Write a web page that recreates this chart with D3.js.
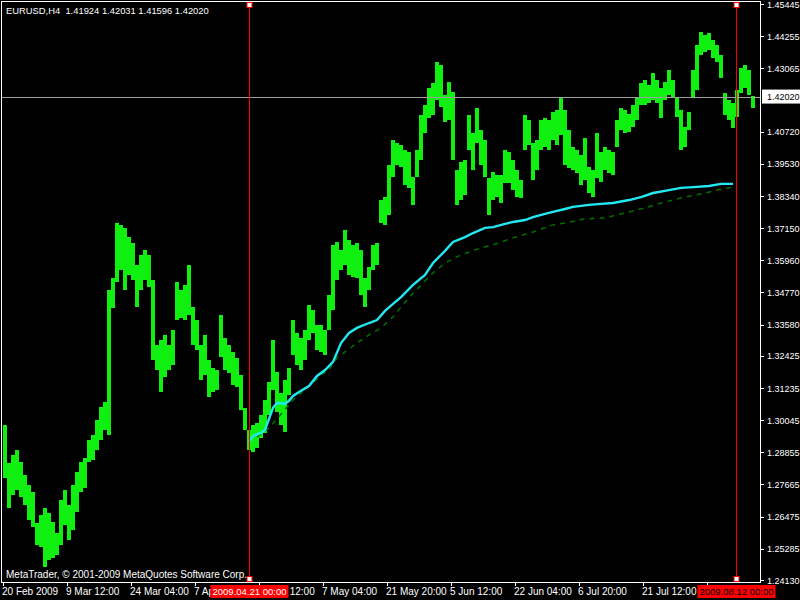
<!DOCTYPE html>
<html><head><meta charset="utf-8">
<script src="https://cdn.jsdelivr.net/npm/d3@7"></script>
<style>
html,body{margin:0;padding:0;background:#000;}
svg{display:block;}
text{font-family:"Liberation Sans",Arial,sans-serif;font-size:9px;}
</style>
</head><body><svg id="c" width="800" height="600"></svg>
<script>
const titleText = "EURUSD,H4  1.41924 1.42031 1.41596 1.42020";
const copyrightText = "MetaTrader, \u00a9 2001-2009 MetaQuotes Software Corp.";

const highs = [
1.2987,1.2846,1.2876,1.2894,1.2850,1.2802,1.2765,1.2739,1.2624,1.2654,
1.2680,1.2661,1.2628,1.2587,1.2709,1.2746,1.2691,1.2765,1.2813,1.2850,
1.2865,1.2931,1.2950,1.3005,1.3053,1.3072,1.3486,1.3531,1.3734,1.3727,
1.3716,1.3682,1.3660,1.3579,1.3616,1.3634,1.3616,1.3523,1.3283,1.3301,
1.3320,1.3283,1.3338,1.3516,1.3486,1.3505,1.3579,1.3423,1.3375,1.3283,
1.3320,1.3227,1.3198,1.3190,1.3394,1.3309,1.3283,1.3257,1.3235,1.3172,
1.3050,1.2968,1.2987,1.2994,1.3024,1.3079,1.3146,1.3301,1.3183,1.3105,
1.3153,1.3198,1.3375,1.3327,1.3309,1.3338,1.3431,1.3412,1.3357,1.3357,
1.3338,1.3468,1.3653,1.3664,1.3634,1.3708,1.3671,1.3653,1.3660,1.3634,
1.3531,1.3571,1.3653,1.3660,1.3819,1.3830,1.3949,1.4041,1.4030,1.4023,
1.4004,1.3997,1.3904,1.4004,1.4134,1.4171,1.4234,1.4252,1.4330,1.4319,
1.4208,1.4256,1.4219,1.3930,1.3960,1.3967,1.4134,1.4067,1.4160,1.4078,
1.4041,1.3901,1.3923,1.3912,1.3912,1.4004,1.3997,1.3967,1.3930,1.3893,
1.4134,1.4115,1.4030,1.4041,1.4115,1.4123,1.4115,1.4145,1.4152,1.4200,
1.4152,1.4078,1.4015,1.4004,1.3986,1.4049,1.3941,1.3930,1.4067,1.3997,
1.4015,1.4004,1.3997,1.4115,1.4160,1.4152,1.4138,1.4171,1.4197,1.4252,
1.4263,1.4245,1.4289,1.4263,1.4234,1.4256,1.4300,1.4263,1.4200,1.4152,
1.4089,1.4145,1.4300,1.4393,1.4441,1.4430,1.4437,1.4411,1.4393,1.4356,
1.4215,1.4189,1.4178,1.4226,1.4308,1.4319,1.4300,1.4203];

const lows = [
1.2791,1.2680,1.2728,1.2746,1.2720,1.2691,1.2635,1.2609,1.2543,1.2535,
1.2461,1.2487,1.2495,1.2506,1.2543,1.2617,1.2561,1.2598,1.2665,1.2739,
1.2754,1.2850,1.2857,1.2894,1.2931,1.2968,1.2950,1.3420,1.3516,1.3560,
1.3486,1.3542,1.3523,1.3423,1.3486,1.3523,1.3497,1.3227,1.3190,1.3109,
1.3164,1.3190,1.3209,1.3375,1.3383,1.3375,1.3394,1.3283,1.3264,1.3153,
1.3172,1.3090,1.3109,1.3116,1.3238,1.3190,1.3179,1.3135,1.3127,1.3042,
1.2968,1.2894,1.2887,1.2902,1.2939,1.2957,1.3024,1.3116,1.3035,1.2987,
1.2961,1.3098,1.3246,1.3209,1.3190,1.3227,1.3301,1.3327,1.3264,1.3257,
1.3246,1.3338,1.3412,1.3523,1.3560,1.3579,1.3542,1.3534,1.3531,1.3468,
1.3423,1.3486,1.3560,1.3579,1.3734,1.3727,1.3764,1.3904,1.3949,1.3941,
1.3875,1.3864,1.3801,1.3904,1.3967,1.4067,1.4123,1.4134,1.4189,1.4163,
1.4108,1.4115,1.3967,1.3801,1.3819,1.3838,1.4004,1.3930,1.4030,1.3949,
1.3904,1.3764,1.3819,1.3830,1.3808,1.3882,1.3882,1.3856,1.3830,1.3827,
1.4004,1.4023,1.3893,1.3930,1.4004,1.4015,1.4004,1.4041,1.4023,1.4060,
1.3949,1.3938,1.3930,1.3919,1.3875,1.3893,1.3845,1.3830,1.3901,1.3886,
1.3930,1.3919,1.3912,1.4015,1.4078,1.4067,1.4071,1.4089,1.4115,1.4171,
1.4171,1.4178,1.4189,1.4178,1.4123,1.4189,1.4208,1.4197,1.4126,1.4004,
1.4015,1.4078,1.4200,1.4226,1.4356,1.4367,1.4374,1.4345,1.4330,1.4271,
1.4134,1.4115,1.4086,1.4126,1.4215,1.4234,1.4208,1.4160];

// moving average (cyan) : bar index -> value
const maIdx = [61,62,64,65,66,67,68,70,71,72,74,76,78,80,82,84,86,88,91,93,95,97,99,102,105,107,110,112,115,117,120,122,125,127,130,132,135,137,140,142,146,149,152,156,159,162,166,169,172,176,179,182];
const maVals = [1.2924,1.2946,1.2957,1.2968,1.3009,1.3050,1.3068,1.3065,1.3076,1.3094,1.3113,1.3131,1.3168,1.3190,1.3220,1.3290,1.3327,1.3346,1.3364,1.3375,1.3409,1.3435,1.3460,1.3505,1.3542,1.3586,1.3631,1.3664,1.3682,1.3697,1.3716,1.3719,1.3731,1.3738,1.3745,1.3756,1.3768,1.3775,1.3786,1.3794,1.3801,1.3805,1.3808,1.3819,1.3830,1.3845,1.3856,1.3864,1.3867,1.3871,1.3879,1.3879];

// second average (dark green dashed)
const ma2Idx = [63,66,72,77,79,81,83,85,88,91,94,97,99,102,107,110,114,119,122,127,132,137,140,145,150,155,160,165,170,175,178,182];
const ma2Vals = [1.2942,1.2975,1.3079,1.3142,1.3172,1.3190,1.3235,1.3257,1.3290,1.3320,1.3346,1.3386,1.3423,1.3475,1.3549,1.3586,1.3616,1.3642,1.3653,1.3679,1.3701,1.3727,1.3734,1.3749,1.3753,1.3771,1.3790,1.3812,1.3830,1.3845,1.3856,1.3867];

const yTicks = [1.45445,1.44255,1.43065,1.40720,1.39530,1.38340,1.37150,1.35960,1.34770,1.33580,1.32425,1.31235,1.30045,1.28855,1.27665,1.26475,1.25285,1.24130];
const yTickLabels = ["1.45445","1.44255","1.43065","1.40720","1.39530","1.38340","1.37150","1.35960","1.34770","1.33580","1.32425","1.31235","1.30045","1.28855","1.27665","1.26475","1.25285","1.24130"];
const yMin = 1.24130, yMax = 1.45445;

const xTickIdx = [0,16,32,48,64,80,96,112,128,144,160,176];
const xTickLabels = ["20 Feb 2009","9 Mar 12:00","24 Mar 04:00","7 Apr 20:00","22 Apr 12:00","7 May 04:00","21 May 20:00","5 Jun 12:00","22 Jun 04:00","6 Jul 20:00","21 Jul 12:00","5 Aug 04:00"];

const currentPrice = 1.42020;
const currentPriceLabel = "1.42020";
const vLineIdx = [61.6, 183.3];
const vLineLabels = ["2009.04.21 00:00","2009.08.12 00:00"];
const vLineTextColors = ["#ffffff","#000000"];

const svg = d3.select("#c");
const W = 800, H = 600;
const plotL = 2, plotT = 2, plotR = 760, plotB = 582;

svg.append("rect").attr("width",W).attr("height",H).attr("fill","#000");

const x = d3.scaleLinear().domain([0, highs.length]).range([3, 3 + 4*highs.length]);
const y = d3.scaleLinear().domain([yMin, yMax]).range([580, 4]);

// frame
svg.append("rect").attr("x",plotL-0.5).attr("y",plotT-0.5)
  .attr("width",plotR-plotL+1).attr("height",plotB-plotT+1)
  .attr("fill","none").attr("stroke","#fff").attr("stroke-width",1);

// bars
const bars = highs.map((h,i)=>({i,h,l:lows[i]}));
svg.append("g").selectAll("rect").data(bars).join("rect")
  .attr("x",d=>x(d.i)).attr("width",d=>x(d.i+1)-x(d.i))
  .attr("y",d=>y(d.h)).attr("height",d=>Math.max(1,y(d.l)-y(d.h)))
  .attr("fill","#10f010").attr("shape-rendering","crispEdges");

// dashed MA
const ma2 = ma2Idx.map((k,j)=>[k,ma2Vals[j]]);
svg.append("path").datum(ma2)
  .attr("d", d3.line().x(d=>x(d[0]+0.5)).y(d=>y(d[1])))
  .attr("fill","none").attr("stroke","#007000").attr("stroke-width",1.5)
  .attr("stroke-dasharray","5,5");

// cyan MA
const ma = maIdx.map((k,j)=>[k,maVals[j]]);
svg.append("path").datum(ma)
  .attr("d", d3.line().x(d=>x(d[0]+0.5)).y(d=>y(d[1])))
  .attr("fill","none").attr("stroke","#22e8f2").attr("stroke-width",2.4);

// current price line
svg.append("line").attr("x1",plotL).attr("x2",plotR)
  .attr("y1",Math.round(y(currentPrice))+0.5).attr("y2",Math.round(y(currentPrice))+0.5)
  .attr("stroke","#a0a0a0").attr("stroke-width",1);

// y axis ticks and labels
const yg = svg.append("g");
yg.selectAll("line").data(yTicks).join("line")
  .attr("x1",plotR+1).attr("x2",plotR+4)
  .attr("y1",d=>Math.round(y(d))+0.5).attr("y2",d=>Math.round(y(d))+0.5)
  .attr("stroke","#fff");
yg.selectAll("text").data(yTicks).join("text")
  .attr("x",767).attr("y",d=>y(d)+3.5)
  .attr("fill","#fff").text((d,i)=>yTickLabels[i]);

// current price box
const cy = y(currentPrice);
svg.append("rect").attr("x",762).attr("y",cy-7).attr("width",38).attr("height",14).attr("fill","#fff");
svg.append("text").attr("x",767).attr("y",cy+3.5).attr("fill","#000").text(currentPriceLabel);

// x axis ticks and labels
const xg = svg.append("g");
xg.selectAll("line").data(xTickIdx).join("line")
  .attr("x1",d=>Math.round(x(d))+0.5).attr("x2",d=>Math.round(x(d))+0.5)
  .attr("y1",plotB).attr("y2",plotB+4).attr("stroke","#fff");
xg.selectAll("text").data(xTickIdx).join("text")
  .attr("x",d=>x(d)-1).attr("y",595).style("font-size","10px")
  .attr("fill","#fff").text((d,i)=>xTickLabels[i]);

// vertical red lines with labels
vLineIdx.forEach((k,j)=>{
  const vx = Math.round(x(k))+0.5;
  svg.append("line").attr("x1",vx).attr("x2",vx).attr("y1",plotT).attr("y2",plotB)
    .attr("stroke","#ff0000").attr("stroke-width",1);
  [5,579].forEach(yy=>{
    svg.append("rect").attr("x",vx-2.5).attr("y",yy-2.5).attr("width",5).attr("height",5)
      .attr("fill","#fff").attr("stroke","#ff0000").attr("stroke-width",1);
  });
  svg.append("rect").attr("x",vx-39).attr("y",585).attr("width",78).attr("height",13).attr("fill","#ff0000");
  svg.append("text").attr("x",vx).attr("y",595).attr("text-anchor","middle").style("font-size","9.5px")
    .attr("fill",vLineTextColors[j]).text(vLineLabels[j]);
});

// title & copyright
svg.append("text").attr("x",6).attr("y",14).attr("fill","#fff").style("white-space","pre").style("font-size","9.4px").text(titleText);
svg.append("text").attr("x",6).attr("y",578).attr("fill","#fff").style("font-size","10px").text(copyrightText);
</script>
</body></html>
